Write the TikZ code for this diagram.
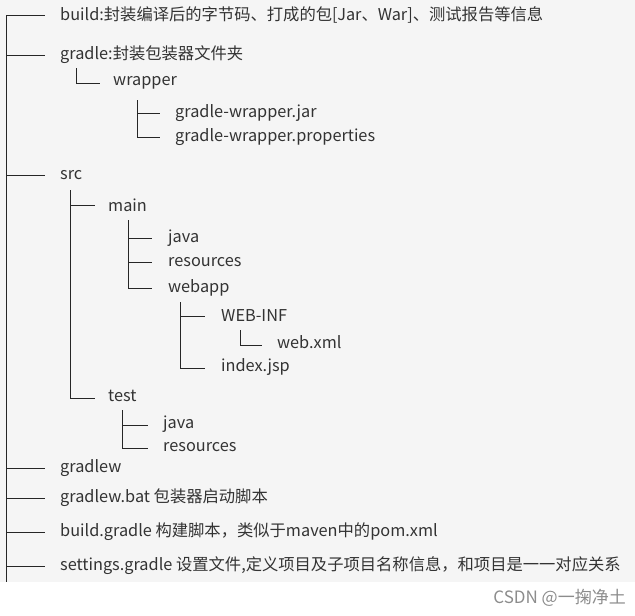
\documentclass[tikz,border=0pt]{standalone}
\usepackage{fontspec}
\setmainfont{Noto Sans CJK SC}
\begin{document}
\begin{tikzpicture}[x=1pt,y=-1pt,
  ln/.style={draw=black!85,line width=1pt},
  lbl/.style={anchor=west,inner sep=0pt,text=black!80,font=\fontsize{16.3}{19}\selectfont}]
\useasboundingbox (0,0) rectangle (635,616);
\fill[black!4] (0,0) rectangle (635,582);
% root
\draw[ln] (6,15) -- (6,582);
\foreach \y/\n/\t in {15/b/{build:封装编译后的字节码、打成的包[Jar、War]、测试报告等信息},55/g/{gradle:封装包装器文件夹},175/s/{src},468/gw/{gradlew},498/gb/{gradlew.bat 包装器启动脚本},532/bg/{build.gradle 构建脚本，类似于maven中的pom.xml},566/sg/{settings.gradle 设置文件,定义项目及子项目名称信息，和项目是一一对应关系}}{
  \node[lbl] (\n) at (60,\y) {\t};
  \draw[ln] (6,\y) -- (45,\y);
}
% wrapper
\node[lbl] (w) at (113,83) {wrapper};
\draw[ln] (76,68) -- (76,83) -- (100,83);
\node[lbl] (wj) at (175,113) {gradle-wrapper.jar};
\node[lbl] (wp) at (175,137) {gradle-wrapper.properties};
\draw[ln] (137,100) -- (137,137) -- (160,137);
\draw[ln] (137,113) -- (160,113);
% src
\node[lbl] (m) at (108,205) {main};
\node[lbl] (t) at (108,396) {test};
\draw[ln] (70,190) -- (70,398) -- (95,398);
\draw[ln] (70,205) -- (95,205);
\node[lbl] (mj) at (168,238) {java};
\node[lbl] (mr) at (168,262) {resources};
\node[lbl] (mw) at (168,288) {webapp};
\draw[ln] (128,220) -- (128,288) -- (152,288);
\draw[ln] (128,238) -- (152,238);
\draw[ln] (128,262) -- (152,262);
\node[lbl] (wi) at (221,316) {WEB-INF};
\node[lbl] (ij) at (221,367) {index.jsp};
\draw[ln] (180,302) -- (180,368) -- (205,368);
\draw[ln] (180,316) -- (205,316);
\node[lbl] (wx) at (277,342) {web.xml};
\draw[ln] (240,330) -- (240,345) -- (262,345);
\node[lbl] (tj) at (163,424) {java};
\node[lbl] (tr) at (163,447) {resources};
\draw[ln] (122,410) -- (122,448) -- (148,448);
\draw[ln] (122,425) -- (148,425);
\node[anchor=east,inner sep=0pt,text=black!45,font=\fontsize{17}{20}\selectfont] (wm) at (626,598) {CSDN @一掬净土};
\end{tikzpicture}
\end{document}
